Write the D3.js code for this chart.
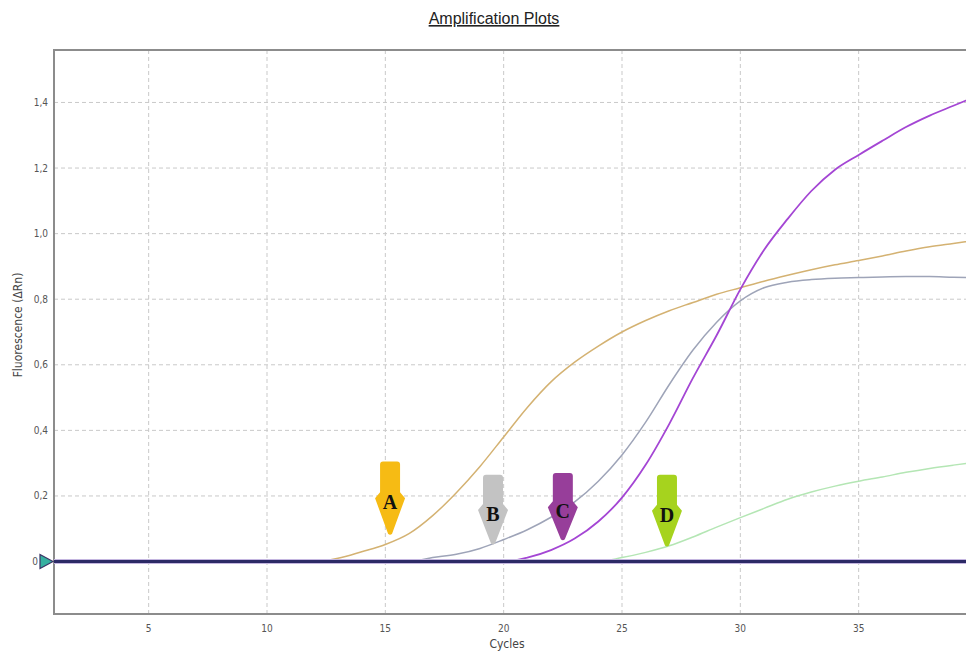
<!DOCTYPE html>
<html>
<head>
<meta charset="utf-8">
<script src="https://cdn.jsdelivr.net/npm/d3@7"></script>
<style>
  body { margin: 0; background: #fff; }
  svg { display: block; }
</style>
</head>
<body>
<div id="chart"></div>
<script>
// cycles 1..40
const cycles = [1,2,3,4,5,6,7,8,9,10,11,12,13,14,15,16,17,18,19,20,
                21,22,23,24,25,26,27,28,29,30,31,32,33,34,35,36,37,38,39,40];

// sample A (tan)
const seriesA = [0,0,0,0,0,0,0,0,0,0,0,0,0.01,0.03,0.052,0.085,0.14,0.21,0.29,0.38,
                 0.47,0.548,0.608,0.657,0.70,0.735,0.765,0.79,0.815,0.835,0.855,0.873,0.89,0.905,0.918,0.932,0.947,0.96,0.97,0.98];
// sample B (grey blue)
const seriesB = [0,0,0,0,0,0,0,0,0,0,0,0,0,0,0,0,0.012,0.022,0.04,0.067,
                 0.097,0.135,0.182,0.245,0.325,0.425,0.54,0.645,0.73,0.795,0.835,0.852,0.86,0.864,0.866,0.868,0.869,0.869,0.867,0.866];
// sample C (purple)
const seriesC = [0,0,0,0,0,0,0,0,0,0,0,0,0,0,0,0,0,0,0,0,
                 0.012,0.035,0.07,0.122,0.195,0.295,0.42,0.56,0.69,0.83,0.95,1.045,1.13,1.195,1.24,1.283,1.325,1.36,1.39,1.42];
// sample D (light green)
const seriesD = [0,0,0,0,0,0,0,0,0,0,0,0,0,0,0,0,0,0,0,0,
                 0,0,0,0,0.012,0.028,0.048,0.075,0.105,0.134,0.162,0.19,0.212,0.23,0.245,0.258,0.272,0.284,0.294,0.303];
// flat baseline traces
const baseline = [0,0,0,0,0,0,0,0,0,0,0,0,0,0,0,0,0,0,0,0,
                  0,0,0,0,0,0,0,0,0,0,0,0,0,0,0,0,0,0,0,0];

const seriesNames = ["A", "B", "C", "D"];
const seriesColors = ["#d4b272", "#9ea4b8", "#a446d4", "#b4e6b4"];

const xTicks = [5, 10, 15, 20, 25, 30, 35];
const yTicks = [0, 0.2, 0.4, 0.6, 0.8, 1.0, 1.2, 1.4];

// arrows marking each curve: cycle, top value, tip value
const arrowLabels = ["A", "B", "C", "D"];
const arrowCycles = [15.2, 19.55, 22.5, 26.9];
const arrowTops = [0.305, 0.265, 0.27, 0.265];
const arrowTips = [0.082, 0.052, 0.065, 0.046];
const arrowColors = ["#f6bb14", "#c3c3c3", "#973e9a", "#a6d31e"];

const W = 966, H = 652;
const margin = {top: 50, left: 54};
const plotW = 923, plotH = 564;

const svg = d3.select("#chart").append("svg")
    .attr("width", W).attr("height", H);

const x = d3.scaleLinear().domain([1, 40]).range([margin.left, margin.left + plotW]);
const y = d3.scaleLinear().domain([-0.16, 1.56]).range([margin.top + plotH, margin.top]);

svg.append("clipPath").attr("id", "plotclip")
  .append("rect")
    .attr("x", margin.left).attr("y", margin.top)
    .attr("width", plotW).attr("height", plotH);

// title
svg.append("text")
    .attr("x", 494).attr("y", 24)
    .attr("text-anchor", "middle")
    .style("font-family", "'Liberation Sans', Arial, sans-serif")
    .style("font-size", "16px")
    .style("text-decoration", "underline")
    .attr("fill", "#222")
    .text("Amplification Plots");

// grid
const grid = svg.append("g");
grid.selectAll(".vg").data(xTicks).enter().append("line")
    .attr("x1", d => x(d)).attr("x2", d => x(d))
    .attr("y1", margin.top).attr("y2", margin.top + plotH)
    .attr("stroke", "#c9c9c9").attr("stroke-dasharray", "4,3");
grid.selectAll(".hg").data(yTicks.filter(d => d > 0)).enter().append("line")
    .attr("x1", margin.left).attr("x2", margin.left + plotW)
    .attr("y1", d => y(d)).attr("y2", d => y(d))
    .attr("stroke", "#c9c9c9").attr("stroke-dasharray", "4,3");

// frame
svg.append("rect")
    .attr("x", margin.left).attr("y", margin.top)
    .attr("width", plotW).attr("height", plotH)
    .attr("fill", "none").attr("stroke", "#8c8c8c").attr("stroke-width", 2);

// axes labels
const fmt = d => d === 0 ? "0" : d3.format(".1f")(d).replace(".", ",");
svg.append("g").selectAll("text").data(yTicks).enter().append("text")
    .attr("x", d => d === 0 ? 38 : 48).attr("y", d => y(d)).attr("dy", "0.35em")
    .attr("text-anchor", "end")
    .style("font-family", "'DejaVu Sans Condensed', 'DejaVu Sans', sans-serif")
    .style("font-size", "10px")
    .attr("fill", "#555")
    .text(fmt);

svg.append("g").selectAll("text").data(xTicks).enter().append("text")
    .attr("x", d => x(d)).attr("y", 632)
    .attr("text-anchor", "middle")
    .style("font-family", "'DejaVu Sans Condensed', 'DejaVu Sans', sans-serif")
    .style("font-size", "10px")
    .attr("fill", "#555")
    .text(d => d);

svg.append("text")
    .attr("x", 507).attr("y", 648)
    .attr("text-anchor", "middle")
    .style("font-family", "'DejaVu Sans Condensed', 'DejaVu Sans', sans-serif")
    .style("font-size", "12px")
    .attr("fill", "#444")
    .text("Cycles");

svg.append("text")
    .attr("transform", "translate(22,325) rotate(-90)")
    .attr("text-anchor", "middle")
    .style("font-family", "'DejaVu Sans Condensed', 'DejaVu Sans', sans-serif")
    .style("font-size", "12px")
    .attr("fill", "#444")
    .text("Fluorescence (\u0394Rn)");

// curves
const line = d3.line()
    .x((d, i) => x(cycles[i]))
    .y(d => y(d))
    .curve(d3.curveMonotoneX);

const curves = svg.append("g").attr("clip-path", "url(#plotclip)");
[seriesA, seriesB, seriesC, seriesD].forEach((s, i) => {
    curves.append("path")
        .datum(s)
        .attr("d", line)
        .attr("fill", "none")
        .attr("stroke", seriesColors[i])
        .attr("stroke-width", i === 2 ? 1.8 : 1.5)
        .attr("class", "series-" + seriesNames[i]);
});

// baseline traces on top
curves.append("path").datum(baseline).attr("d", line)
    .attr("fill", "none").attr("stroke", "#c4b6e0").attr("stroke-width", 5);
curves.append("path").datum(baseline).attr("d", line)
    .attr("fill", "none").attr("stroke", "#2c2a66").attr("stroke-width", 3);

// threshold marker
const y0 = y(0);
svg.append("path")
    .attr("d", `M${margin.left - 14},${y0 - 7} L${margin.left - 1},${y0} L${margin.left - 14},${y0 + 7} Z`)
    .attr("fill", "#36b0a0").attr("stroke", "#3b3566").attr("stroke-width", 1.2);

// arrows
const arrows = svg.append("g");
arrowLabels.forEach((lab, i) => {
    const cx = x(arrowCycles[i]);
    const yt = y(arrowTops[i]);
    const yp = y(arrowTips[i]);
    const yh = yt + 0.42 * (yp - yt);
    const sw = 10, hw = 15;
    const d = `M${cx - sw},${yt + 3} Q${cx - sw},${yt} ${cx - sw + 3},${yt}` +
              ` L${cx + sw - 3},${yt} Q${cx + sw},${yt} ${cx + sw},${yt + 3}` +
              ` L${cx + sw},${yh} L${cx + hw},${yh + 6} L${cx + 2},${yp - 1} Q${cx},${yp + 1} ${cx - 2},${yp - 1}` +
              ` L${cx - hw},${yh + 6} L${cx - sw},${yh} Z`;
    arrows.append("path").attr("d", d).attr("fill", arrowColors[i]);
    arrows.append("text")
        .attr("x", cx).attr("y", yt + 0.56 * (yp - yt))
        .attr("dy", "0.35em")
        .attr("text-anchor", "middle")
        .style("font-family", "'Liberation Serif', 'Times New Roman', serif")
        .style("font-weight", "bold")
        .style("font-size", "20px")
        .attr("fill", "#111")
        .text(lab);
});
</script>
</body>
</html>
